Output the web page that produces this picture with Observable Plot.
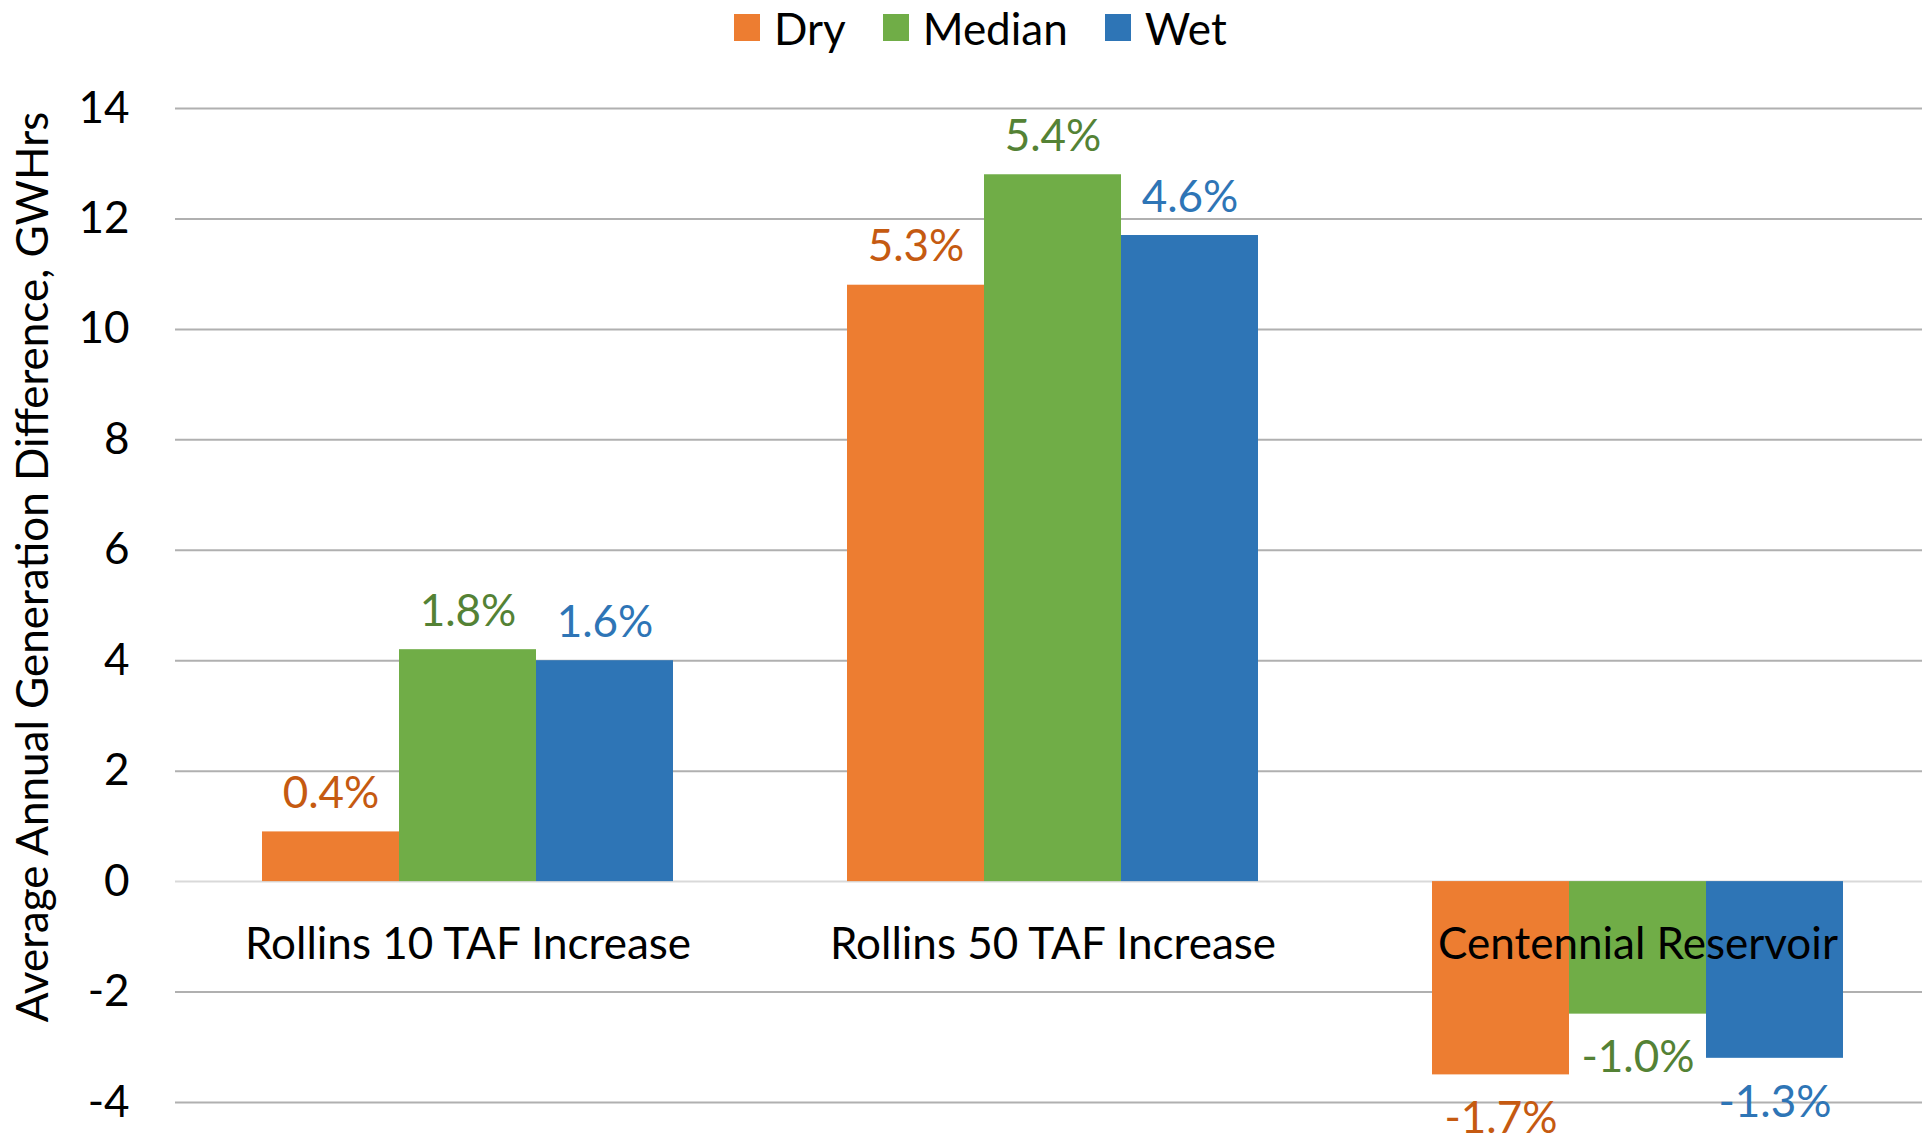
<!DOCTYPE html>
<html>
<head>
<meta charset="utf-8">
<script src="https://cdn.jsdelivr.net/npm/d3@7"></script>
<script src="https://cdn.jsdelivr.net/npm/@observablehq/plot@0.6"></script>
<style>
  html, body { margin: 0; padding: 0; background: #fff; overflow: hidden; width: 1922px; height: 1133px; }
  #wrap { position: relative; width: 1922px; height: 1133px; font-family: Lato, sans-serif; overflow: hidden; }
  #legend { position: absolute; left: 734px; top: 0; height: 55px; display: flex; align-items: center; font-size: 44px; color: #000; }
  .item { display: flex; align-items: center; margin-right: 37px; }
  .sw { width: 26px; height: 27px; margin-right: 14px; }
  #ytitle { position: absolute; left: 31px; top: 567px; width: 1000px; text-align: center; font-size: 44px; line-height: 52px; white-space: nowrap;
            transform: translate(-50%, -50%) rotate(-90deg); color: #000; }
  #chart { position: absolute; left: 0; top: 55px; width: 1931px; }
  #chart svg { max-width: none !important; }
</style>
</head>
<body>
<div id="wrap">
  <div id="legend"></div>
  <div id="ytitle"></div>
  <div id="chart"></div>
</div>
<script>
// ---- data ----
const categories = ["Rollins 10 TAF Increase", "Rollins 50 TAF Increase", "Centennial Reservoir"];
const series = ["Dry", "Median", "Wet"];
const dryValues = [0.9, 10.8, -3.5];
const medianValues = [4.2, 12.8, -2.4];
const wetValues = [4.0, 11.7, -3.2];
const dryLabels = ["0.4%", "5.3%", "-1.7%"];
const medianLabels = ["1.8%", "5.4%", "-1.0%"];
const wetLabels = ["1.6%", "4.6%", "-1.3%"];
const yTicks = [-4, -2, 0, 2, 4, 6, 8, 10, 12, 14];
const yTitle = "Average Annual Generation Difference, GWHrs";

// ---- styles ----
const barColors = ["#ED7D31", "#70AD47", "#2E75B6"];
const labelColors = ["#C55A11", "#548235", "#2E75B6"];

const valuesBySeries = [dryValues, medianValues, wetValues];
const labelsBySeries = [dryLabels, medianLabels, wetLabels];
const rows = [];
categories.forEach((c, i) => series.forEach((s, j) => {
  rows.push({category: c, series: s, value: valuesBySeries[j][i], label: labelsBySeries[j][i]});
}));

const labelMarks = series.flatMap((s, j) => [
  Plot.text(rows.filter(d => d.series === s && d.value >= 0), {
    fx: "category", x: "series", y: "value", text: "label",
    fill: labelColors[j], lineAnchor: "bottom", dy: -24
  }),
  Plot.text(rows.filter(d => d.series === s && d.value < 0), {
    fx: "category", x: "series", y: "value", text: "label",
    fill: labelColors[j], lineAnchor: "top", dy: 27
  })
]);

const chart = Plot.plot({
  width: 1931,
  height: 1078,
  marginLeft: 174,
  marginRight: 0,
  marginTop: 53,
  marginBottom: 31,
  style: {fontFamily: "Lato, sans-serif", fontSize: "44px", color: "#000", background: "transparent", maxWidth: "none"},
  fx: {domain: categories, padding: 0, axis: null, label: null},
  x: {domain: series, paddingInner: 0, paddingOuter: 0.6254, axis: null, label: null},
  y: {domain: [-4, 14], ticks: yTicks, tickSize: 0, tickPadding: 46, tickFormat: d => String(d), label: null},
  color: {domain: series, range: barColors},
  marks: [
    Plot.ruleY(yTicks.filter(d => d !== 0), {stroke: "#b0b0b0", strokeWidth: 2}),
    Plot.ruleY([0], {stroke: "#d9d9d9", strokeWidth: 2}),
    Plot.barY(rows, {fx: "category", x: "series", y: "value", fill: "series"}),
    ...labelMarks,
    Plot.text(categories, {fx: d => d, y: d => 0, text: d => d, fill: "#000", lineAnchor: "bottom", dy: 77})
  ]
});
document.getElementById("chart").append(chart);

// legend
const legend = document.getElementById("legend");
series.forEach((s, j) => {
  const item = document.createElement("div");
  item.className = "item";
  const sw = document.createElement("div");
  sw.className = "sw";
  sw.style.background = barColors[j];
  const t = document.createElement("span");
  t.textContent = s;
  item.append(sw, t);
  legend.append(item);
});
document.getElementById("ytitle").textContent = yTitle;
</script>
</body>
</html>
